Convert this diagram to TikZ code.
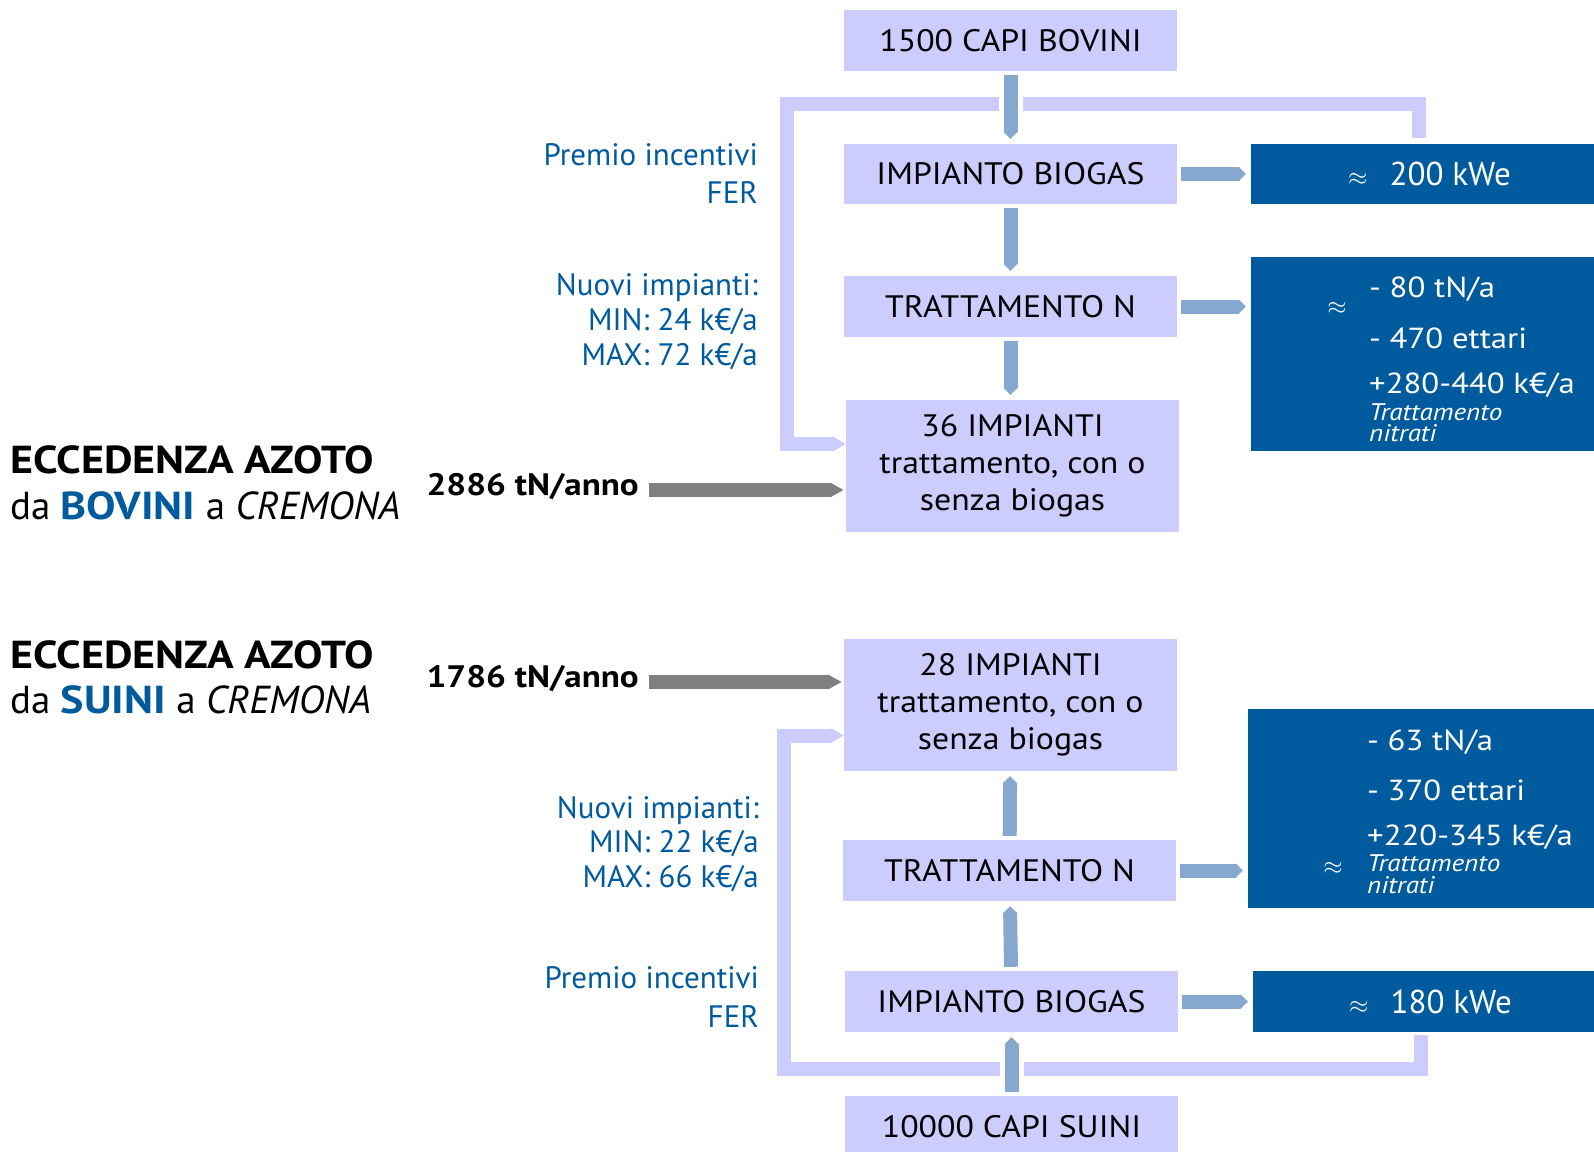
\documentclass[tikz,border=0pt]{standalone}
\usepackage{fontspec}
\setmainfont{PT Sans}[BoldFeatures={FakeStretch=1.13}]
\newfontfamily\boxfont{PT Sans}[FakeStretch=1.09]
\newfontfamily\widefont{PT Sans}[FakeStretch=1.13]
\usetikzlibrary{arrows.meta}

\definecolor{lav}{HTML}{CCCCFF}
\definecolor{dblue}{HTML}{005A9E}
\definecolor{tblue}{HTML}{005A9E}
\definecolor{fblue}{HTML}{87A8CE}
\definecolor{grayarr}{HTML}{808080}

\tikzset{
  lbox/.style={fill=lav, minimum width=333pt, minimum height=61pt, inner sep=0pt, align=center, font=\boxfont\fontsize{31}{37}\selectfont},
  dbox/.style={fill=dblue, text=white, inner sep=0pt, font=\fontsize{33}{38}\selectfont},
  flow/.style={draw=fblue, line width=14pt, -{Triangle[length=7pt,width=14pt]}, shorten <=4pt, shorten >=5pt},
  feed/.style={draw=lav, line width=14pt, -{Triangle[length=13pt,width=14pt]}},
  nflow/.style={draw=grayarr, line width=14pt, -{Triangle[length=14pt,width=14pt]}, shorten >=2pt},
  gap/.style={preaction={draw=white, line width=24pt, -}},
  note/.style={text=tblue, inner sep=0pt, anchor=base east, font=\fontsize{31}{35}\selectfont},
  dtext/.style={text=white, inner sep=0pt, anchor=base west, font=\widefont\fontsize{29}{34}\selectfont},
  dsmall/.style={text=white, inner sep=0pt, anchor=base west, font=\widefont\fontsize{24}{26}\selectfont\itshape},
  title/.style={inner sep=0pt, anchor=base west, font=\fontsize{39}{44}\selectfont},
  nlabel/.style={inner sep=0pt, anchor=base east, font=\fontsize{31}{36}\selectfont\bfseries},
}

\begin{document}
\begin{tikzpicture}[x=1pt, y=-1pt]
    \useasboundingbox (0,0) rectangle (1594,1151);

    % bovini
    \node[lbox] (b1) at (1010.5,40.5) {1500 CAPI BOVINI};
    \node[lbox, minimum height=60pt] (b2) at (1010.5,174) {IMPIANTO BIOGAS};
    \node[lbox] (b3) at (1010.5,306.5) {TRATTAMENTO N};
    \node[lbox, minimum height=132pt] (b4) at (1012.5,466) {36 IMPIANTI\\trattamento, con o\\senza biogas};

    \node[dbox, minimum width=343pt, minimum height=60pt] (d1) at (1422.5,174) {\hspace*{14pt}$\approx$\hspace{22pt}200 kWe};
    \node[dbox, minimum width=343pt, minimum height=194pt] (d2) at (1422.5,354) {};
    \node[text=white, inner sep=0pt, font=\fontsize{30}{34}\selectfont] (d2x) at (1337,308) {$\approx$};
    \node[dtext] (d2a) at (1369,297) {- 80 tN/a};
    \node[dtext] (d2b) at (1369,348) {- 470 ettari};
    \node[dtext] (d2c) at (1369,393) {+280-440 k€/a};
    \node[dsmall] (d2d) at (1369,420) {Trattamento};
    \node[dsmall] (d2e) at (1369,441) {nitrati};

    \node[note] (pA) at (758,165) {Premio incentivi};
    \node[note] (fA) at (758,203) {FER};
    \node[note] (nA) at (758,295) {Nuovi impianti:};
    \node[note] (minA) at (758,330) {MIN: 24 k€/a};
    \node[note] (maxA) at (758,365) {MAX: 72 k€/a};

    \node[title] (tA) at (10,473) {\bfseries ECCEDENZA AZOTO};
    \node[title] (sA) at (10,519) {da \textcolor{tblue}{\bfseries BOVINI} a \textit{CREMONA}};
    \node[nlabel] (inA) at (639,495) {2886 tN/anno};

    % suini
    \node[lbox, minimum height=132pt] (b5) at (1010.5,705) {28 IMPIANTI\\trattamento, con o\\senza biogas};
    \node[lbox] (b6) at (1009.5,870.5) {TRATTAMENTO N};
    \node[lbox] (b7) at (1011.5,1001.5) {IMPIANTO BIOGAS};
    \node[lbox] (b8) at (1011.5,1126.5) {10000 CAPI SUINI};

    \node[dbox, minimum width=346pt, minimum height=199pt] (d3) at (1421,808.5) {};
    \node[text=white, inner sep=0pt, font=\fontsize{30}{34}\selectfont] (d3x) at (1333,868) {$\approx$};
    \node[dtext] (d3a) at (1367,750) {- 63 tN/a};
    \node[dtext] (d3b) at (1367,800) {- 370 ettari};
    \node[dtext] (d3c) at (1367,845) {+220-345 k€/a};
    \node[dsmall] (d3d) at (1367,871) {Trattamento};
    \node[dsmall] (d3e) at (1367,893) {nitrati};
    \node[dbox, minimum width=341pt, minimum height=61pt] (d4) at (1423.5,1001.5) {\hspace*{14pt}$\approx$\hspace{22pt}180 kWe};

    \node[note] (nB) at (759,818) {Nuovi impianti:};
    \node[note] (minB) at (759,852) {MIN: 22 k€/a};
    \node[note] (maxB) at (759,887) {MAX: 66 k€/a};
    \node[note] (pB) at (759,988) {Premio incentivi};
    \node[note] (fB) at (759,1027) {FER};

    \node[title] (tB) at (10,668) {\bfseries ECCEDENZA AZOTO};
    \node[title] (sB) at (10,713) {da \textcolor{tblue}{\bfseries SUINI} a \textit{CREMONA}};
    \node[nlabel] (inB) at (639,687) {1786 tN/anno};

    % ritorni
    \coordinate (cA) at (787,104);
    \coordinate (cB) at (784,1069);
    \draw[feed] ([xshift=-3.5pt,yshift=6pt]d1.north) |- (cA) |- (b4.west |- 0,444);
    \draw[feed] ([xshift=-2.5pt,yshift=-3pt]d4.south) |- (cB) |- (b5.west |- 0,735.5);

    \draw[flow, gap] (b1) -- (b2);
    \draw[flow] (b2) -- (b3);
    \draw[flow] (b3.south) -- (b3.south |- b4.north);
    \draw[flow] (b2) -- (d1);
    \draw[flow] (b3.east) -- (b3.east -| d2.west);

    \draw[flow, gap] (b8) -- (b7);
    \draw[flow] (b7) -- (b6);
    \draw[flow] (b6) -- (b5);
    \draw[flow] (b7) -- (d4);
    \draw[flow] (b6.east) -- (b6.east -| d3.west);

    \draw[nflow] ([xshift=10pt,yshift=5pt]inA.base east) -- ([yshift=5pt]inA.base east -| b4.west);
    \draw[nflow] ([xshift=10pt,yshift=5pt]inB.base east) -- ([yshift=5pt]inB.base east -| b5.west);
\end{tikzpicture}
\end{document}
